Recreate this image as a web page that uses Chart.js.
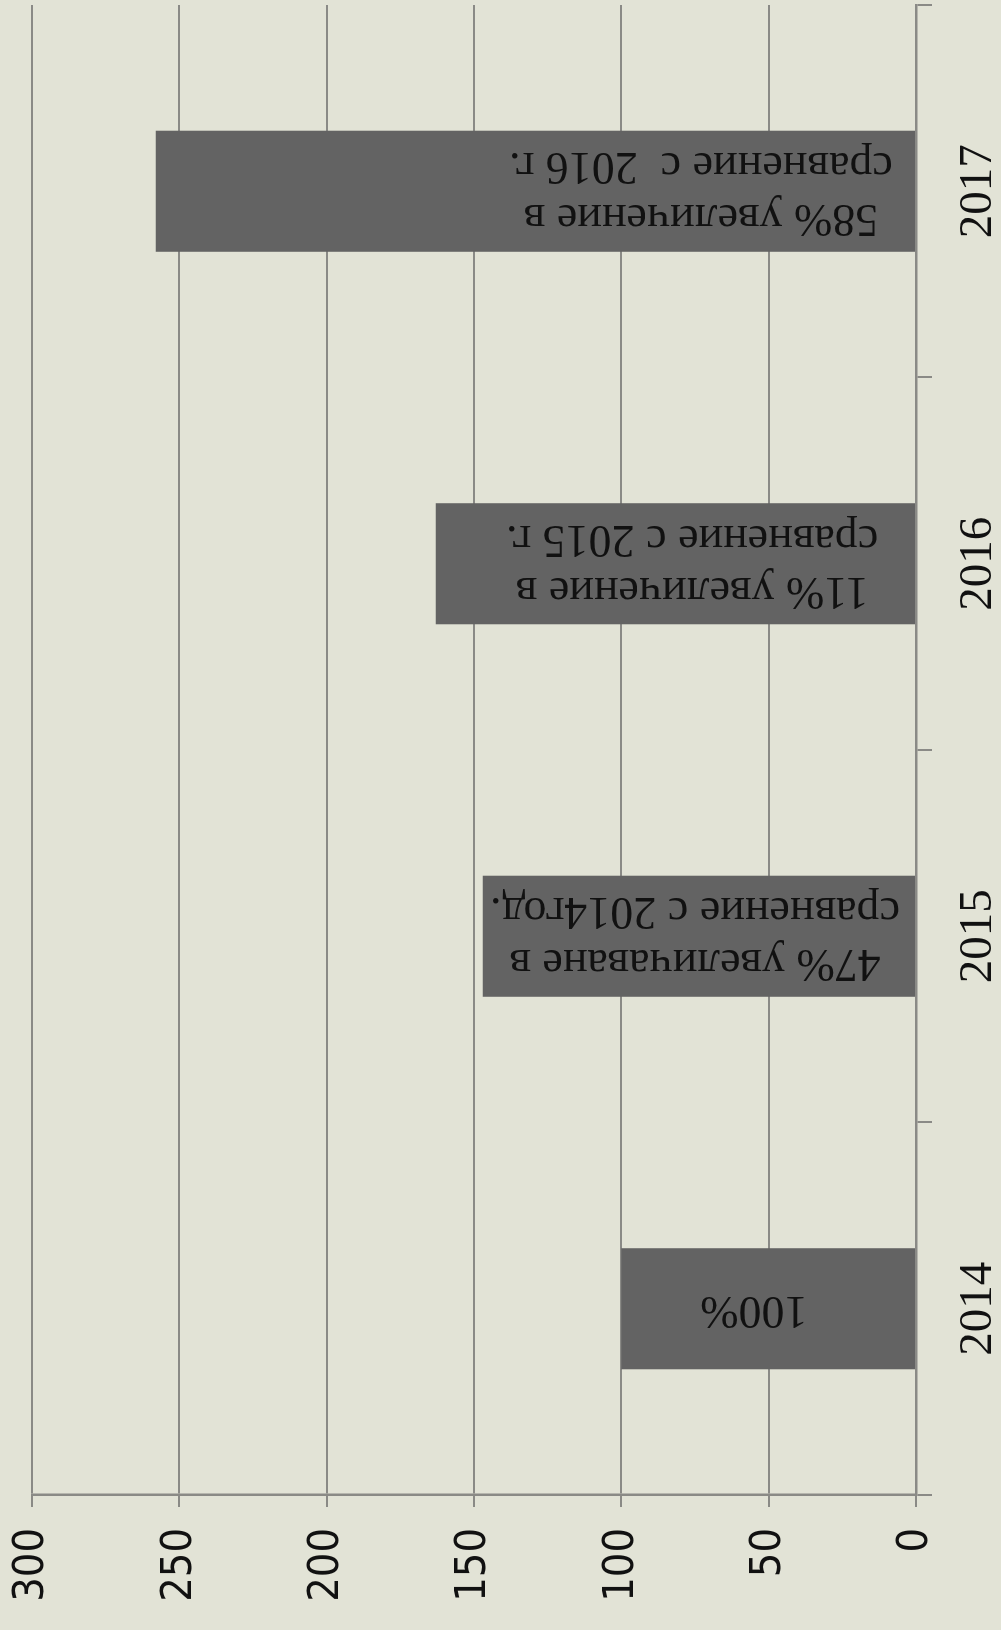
<!DOCTYPE html>
<html lang="ru">
<head>
    <meta charset="UTF-8">
    <title>Увеличение по годам</title>
    <script src="https://cdn.jsdelivr.net/npm/chart.js@4.4.0/dist/chart.umd.min.js"></script>
    <style>
        html, body {
            margin: 0;
            padding: 0;
            width: 1001px;
            height: 1630px;
            overflow: hidden;
            background: #e2e3d6;
        }
        /* the picture is an ordinary column chart turned a quarter turn to the left */
        .turned {
            position: absolute;
            left: 0;
            top: 0;
            width: 1630px;
            height: 1001px;
            transform-origin: 0 0;
            transform: translateY(1630px) rotate(-90deg);
        }
    </style>
</head>
<body>
    <div class="turned">
        <canvas id="growthChart" width="1630" height="1001"></canvas>
    </div>

    <script>
        const years = ['2014', '2015', '2016', '2017'];
        const values = [100, 147, 163, 258];
        const barNotes = [
            ['100%'],
            ['47% увеличаване в', 'сравнение с 2014год.'],
            ['11% увеличение в', 'сравнение с 2015 г.'],
            ['58% увеличение в', 'сравнение с  2016 г.']
        ];

        const lineColor = '#8a8a86';

        // writes the notes inside the bars, reading upwards
        const barNotesPlugin = {
            id: 'barNotes',
            afterDatasetsDraw(chart, args, opts) {
                const ctx = chart.ctx;
                const yScale = chart.scales.y;
                const bars = chart.getDatasetMeta(0).data;
                ctx.save();
                ctx.fillStyle = opts.color;
                ctx.font = opts.font;
                ctx.textAlign = 'center';
                ctx.textBaseline = 'middle';
                bars.forEach((bar, i) => {
                    const lines = barNotes[i];
                    const cy = yScale.getPixelForValue(opts.at[i]);
                    ctx.save();
                    ctx.translate(bar.x, cy);
                    ctx.rotate(-Math.PI / 2);
                    lines.forEach((line, k) => {
                        const off = (k - (lines.length - 1) / 2) * opts.lineHeight;
                        ctx.fillText(line, 0, off);
                    });
                    ctx.restore();
                });
                ctx.restore();
            }
        };

        const ctx = document.getElementById('growthChart').getContext('2d');
        new Chart(ctx, {
            type: 'bar',
            data: {
                labels: years,
                datasets: [{
                    data: values,
                    backgroundColor: '#636363',
                    barPercentage: 0.325,
                    categoryPercentage: 1
                }]
            },
            options: {
                responsive: false,
                animation: false,
                layout: {
                    padding: { top: 32, right: 5, left: 0, bottom: 0 }
                },
                plugins: {
                    legend: { display: false },
                    tooltip: { enabled: false },
                    barNotes: {
                        at: [55, 75, 76, 73],
                        font: '46px "Liberation Serif"',
                        lineHeight: 52,
                        color: '#111111'
                    }
                },
                scales: {
                    x: {
                        grid: {
                            drawOnChartArea: false,
                            color: lineColor,
                            lineWidth: 2,
                            tickLength: 16
                        },
                        border: { color: lineColor, width: 2.5 },
                        ticks: {
                            color: '#111111',
                            font: { family: 'Liberation Serif', size: 47 },
                            padding: 18
                        },
                        afterFit(scale) { scale.height = 85; }
                    },
                    y: {
                        min: 0,
                        max: 300,
                        ticks: {
                            stepSize: 50,
                            color: '#111111',
                            font: { family: '"DejaVu Sans Condensed", "DejaVu Sans"', size: 43 },
                            padding: 21
                        },
                        grid: {
                            color: lineColor,
                            lineWidth: 2,
                            tickLength: 12
                        },
                        border: { color: lineColor, width: 2.5 },
                        afterFit(scale) {
                            scale.width = 135;
                            // let the layout padding alone decide the top edge
                            scale.paddingTop = 0;
                            scale.paddingBottom = 0;
                        }
                    }
                }
            },
            plugins: [barNotesPlugin]
        });
    </script>
</body>
</html>
